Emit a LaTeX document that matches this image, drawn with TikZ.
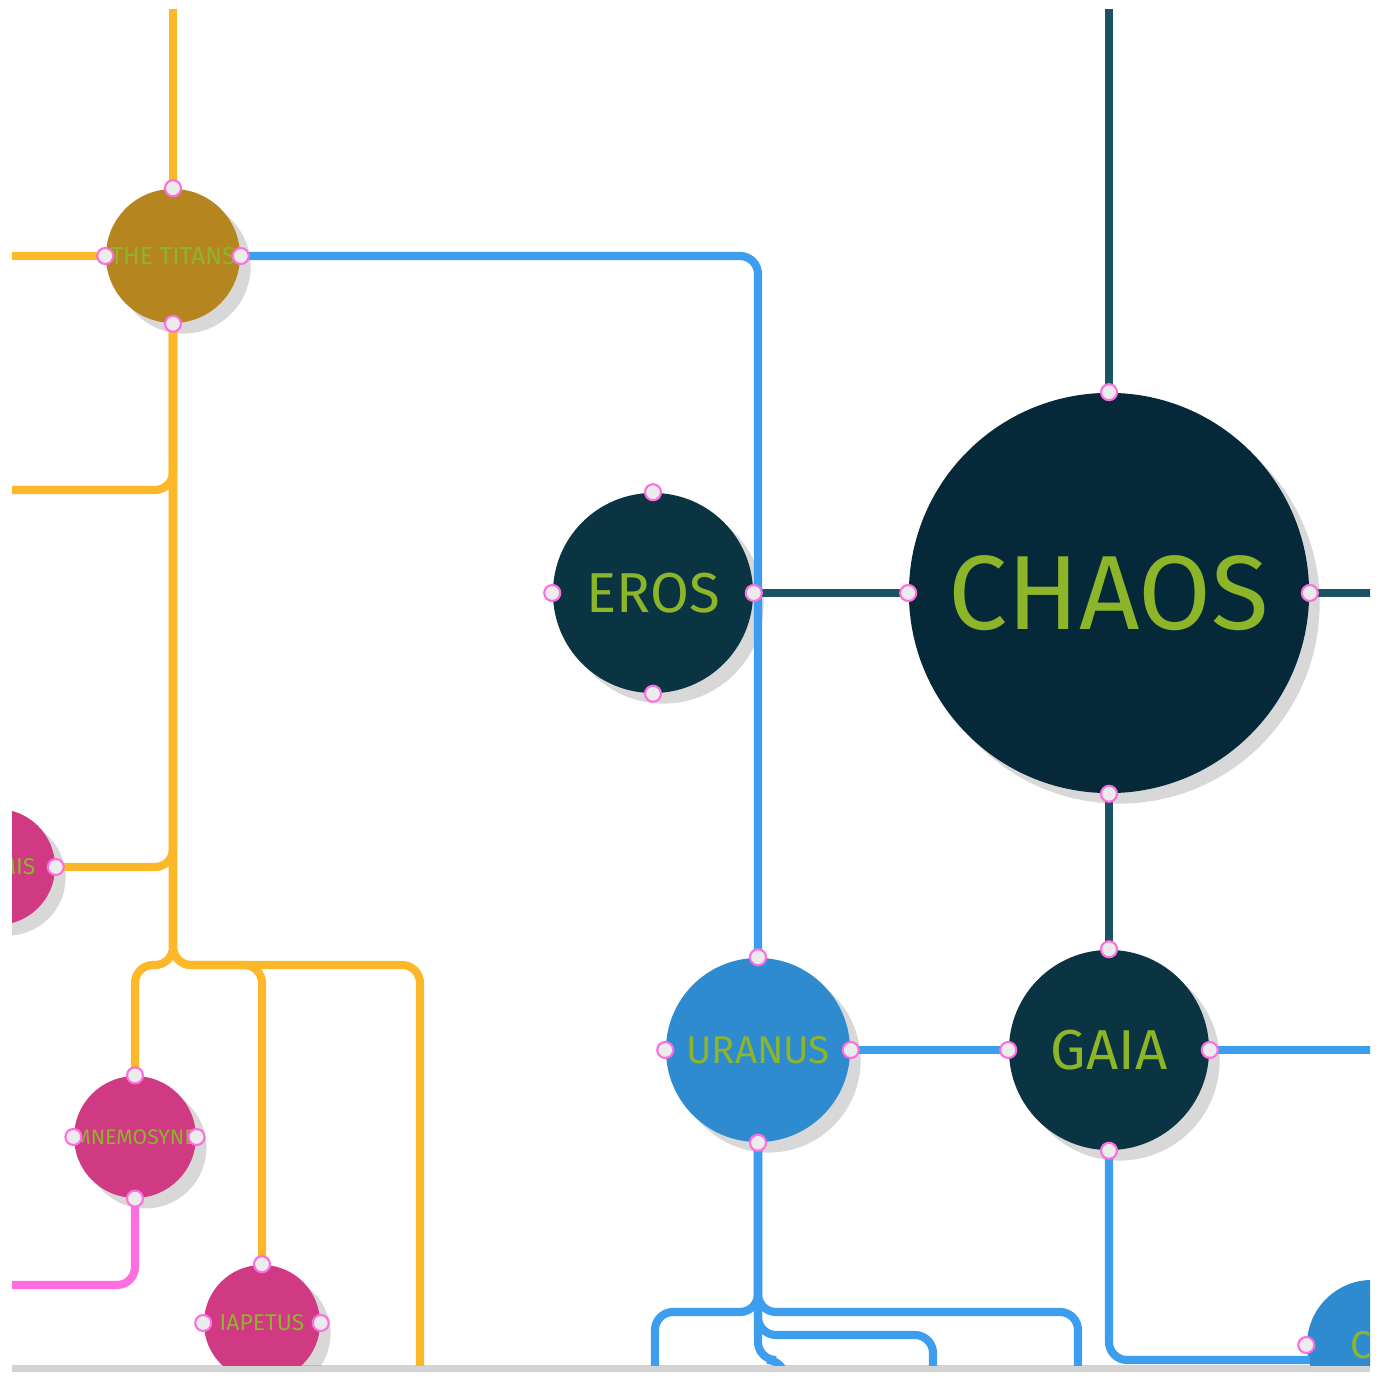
\documentclass[tikz,border=0pt]{standalone}
\usepackage{fontspec}
\setmainfont{Fira Sans}
\usetikzlibrary{shadows}
\definecolor{deep}{HTML}{06293A}
\definecolor{teal}{HTML}{0B3442}
\definecolor{tline}{HTML}{1A5266}
\definecolor{sky}{HTML}{2E8BD0}
\definecolor{bline}{HTML}{3D9EF0}
\definecolor{gold}{HTML}{B5861F}
\definecolor{yline}{HTML}{FDB82A}
\definecolor{rose}{HTML}{D03A82}
\definecolor{pline}{HTML}{FF6EE0}
\definecolor{lbl}{HTML}{8DB52A}
\tikzset{
  god/.style={circle, inner sep=0pt, text=lbl, drop shadow={opacity=0.3, shadow xshift=3pt, shadow yshift=-3pt}},
  tl/.style={tline, line width=2.3pt},
  bl/.style={bline, line width=2.3pt, rounded corners=0.18cm},
  yl/.style={yline, line width=2.3pt, rounded corners=0.18cm},
  pl/.style={pline, line width=2.3pt, rounded corners=0.18cm},
  pin/.style={circle, draw=pline, fill=gray!15, line width=0.6pt, minimum size=0.16cm, inner sep=0pt}
}
\begin{document}
\begin{tikzpicture}[x=0.01cm, y=-0.01cm]
\useasboundingbox (0,0) rectangle (1382,1380);
\fill[white, drop shadow={opacity=0.35, shadow xshift=0pt, shadow yshift=-2pt}] (12,10) rectangle (1370,1365);
\clip (12,10) rectangle (1370,1365);

% Circles
\node (chaos) [god, fill=deep, minimum size=4cm] at (1109,593) {\fontsize{30}{32}\selectfont CHAOS};
\node (eros) [god, fill=teal, minimum size=2cm] at (653,593) {\fontsize{16}{18}\selectfont EROS};
\node (gaia) [god, fill=teal, minimum size=2cm] at (1109,1050) {\fontsize{16}{18}\selectfont GAIA};
\node (uranus) [god, fill=sky, minimum size=1.84cm] at (758,1050) {\fontsize{11}{13}\selectfont URANUS};
\node (titans) [god, fill=gold, minimum size=1.34cm] at (173,256) {\fontsize{7}{8}\selectfont THE TITANS};
\node (mnem) [god, fill=rose, minimum size=1.16cm] at (135,1137) {\fontsize{6}{7}\selectfont MNEMOSYNE};
\node (iap) [god, fill=rose, minimum size=1.16cm] at (262,1323) {\fontsize{6.5}{7}\selectfont IAPETUS};
\node (them) [god, fill=rose, minimum size=1.16cm] at (-3,867) {\fontsize{6.5}{7}\selectfont THEMIS};
\node (cy) [god, fill=sky, minimum size=1.3cm] at (1372,1345) {\fontsize{11}{13}\selectfont CY};

% Teal lines
\draw[tl] (chaos.north) -- (1109,0);
\draw[tl] (chaos.west) -- (eros.east);
\draw[tl] (chaos.east) -- (1400,593);
\draw[tl] (chaos.south) -- (gaia.north);

% Blue lines
\draw[bl] (titans.east) -- (758,256) -- (uranus.north);
\draw[bl] (uranus.east) -- (gaia.west);
\draw[bl] (gaia.east) -- (1400,1050);
\draw[bl] (gaia.south) -- (1109,1360) -- (1310,1360);
\draw[bl] (uranus.south) -- (758,1312) -- (655,1312) -- (655,1400);
\draw[bl] (uranus.south) -- (758,1312) -- (1078,1312) -- (1078,1400);
\draw[bl] (uranus.south) -- (758,1335) -- (933,1335) -- (933,1400);
\draw[bl] (uranus.south) -- (758,1360) -- (785,1360) -- (785,1400);

% Yellow lines
\draw[yl] (titans.north) -- (173,0);
\draw[yl] (titans.west) -- (0,256);
\draw[yl] (titans.south) -- (173,490) -- (0,490);
\draw[yl] (titans.south) -- (173,867) -- (them.east);
\draw[yl] (titans.south) -- (173,965) -- (135,965) -- (mnem.north);
\draw[yl] (titans.south) -- (173,965) -- (262,965) -- (iap.north);
\draw[yl] (titans.south) -- (173,965) -- (420,965) -- (420,1400);

% Pink line
\draw[pl] (mnem.south) -- (135,1285) -- (0,1285);

% Anchor pins
\foreach \n in {chaos, eros, gaia, uranus, titans, mnem, iap}
  \foreach \a in {north, east, south, west}
    \node[pin] at (\n.\a) {};
\node[pin] at (them.east) {};
\node[pin] at (cy.west) {};
\end{tikzpicture}
\end{document}
